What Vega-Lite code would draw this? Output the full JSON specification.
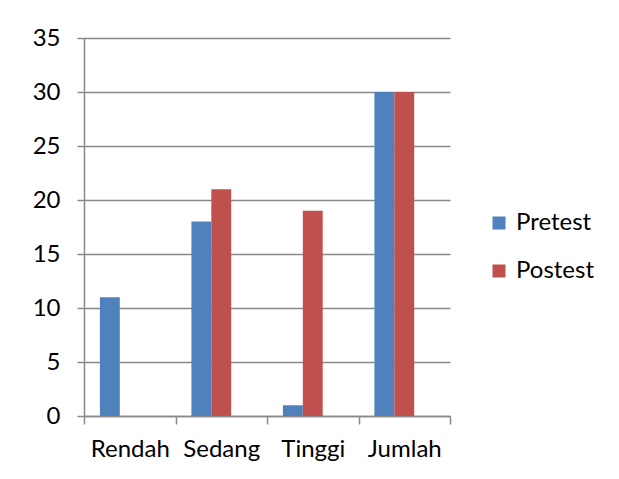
{
  "$schema": "https://vega.github.io/schema/vega-lite/v6.json",
  "width": 366,
  "height": 378,
  "autosize": {"type": "none"},
  "padding": {"left": 84, "top": 38, "right": 169, "bottom": 63},
  "background": "white",
  "data": {
    "values": [
      {"category": "Rendah", "series": "Pretest", "value": 11},
      {"category": "Rendah", "series": "Postest", "value": 0},
      {"category": "Sedang", "series": "Pretest", "value": 18},
      {"category": "Sedang", "series": "Postest", "value": 21},
      {"category": "Tinggi", "series": "Pretest", "value": 1},
      {"category": "Tinggi", "series": "Postest", "value": 19},
      {"category": "Jumlah", "series": "Pretest", "value": 30},
      {"category": "Jumlah", "series": "Postest", "value": 30}
    ]
  },
  "mark": {"type": "bar"},
  "encoding": {
    "x": {
      "field": "category",
      "type": "nominal",
      "sort": ["Rendah", "Sedang", "Tinggi", "Jumlah"],
      "scale": {"paddingInner": 0, "paddingOuter": 0},
      "axis": {
        "title": null,
        "labelAngle": 0,
        "tickBand": "extent",
        "tickSize": 8,
        "labelPadding": 13,
        "domainColor": "#898989",
        "tickColor": "#898989",
        "domainWidth": 1.5,
        "tickWidth": 1.5,
        "labelFont": "Lato",
        "labelFontSize": 24,
        "labelColor": "#000000"
      }
    },
    "xOffset": {
      "field": "series",
      "type": "nominal",
      "scale": {"domain": ["Pretest", "Postest", "_"], "paddingInner": 0, "paddingOuter": 0.8}
    },
    "y": {
      "field": "value",
      "type": "quantitative",
      "scale": {"domain": [0, 35], "nice": false},
      "axis": {
        "title": null,
        "values": [0, 5, 10, 15, 20, 25, 30, 35],
        "grid": true,
        "gridColor": "#898989",
        "gridWidth": 1.5,
        "gridOpacity": 1,
        "domainColor": "#898989",
        "domainWidth": 1.5,
        "tickColor": "#898989",
        "tickWidth": 1.5,
        "tickSize": 7,
        "labelPadding": 17,
        "labelFont": "Lato",
        "labelFontSize": 24,
        "labelColor": "#000000"
      }
    },
    "color": {
      "field": "series",
      "type": "nominal",
      "scale": {"domain": ["Pretest", "Postest"], "range": ["#4F81BD", "#C0504D"]},
      "legend": {
        "orient": "none",
        "legendX": 403,
        "legendY": 173,
        "title": null,
        "symbolType": "square",
        "symbolSize": 169,
        "symbolStrokeWidth": 0,
        "labelFont": "Lato",
        "labelFontSize": 24,
        "labelColor": "#000000",
        "labelOffset": 5,
        "rowPadding": 24,
        "padding": 0
      }
    }
  },
  "config": {"view": {"stroke": null}}
}
